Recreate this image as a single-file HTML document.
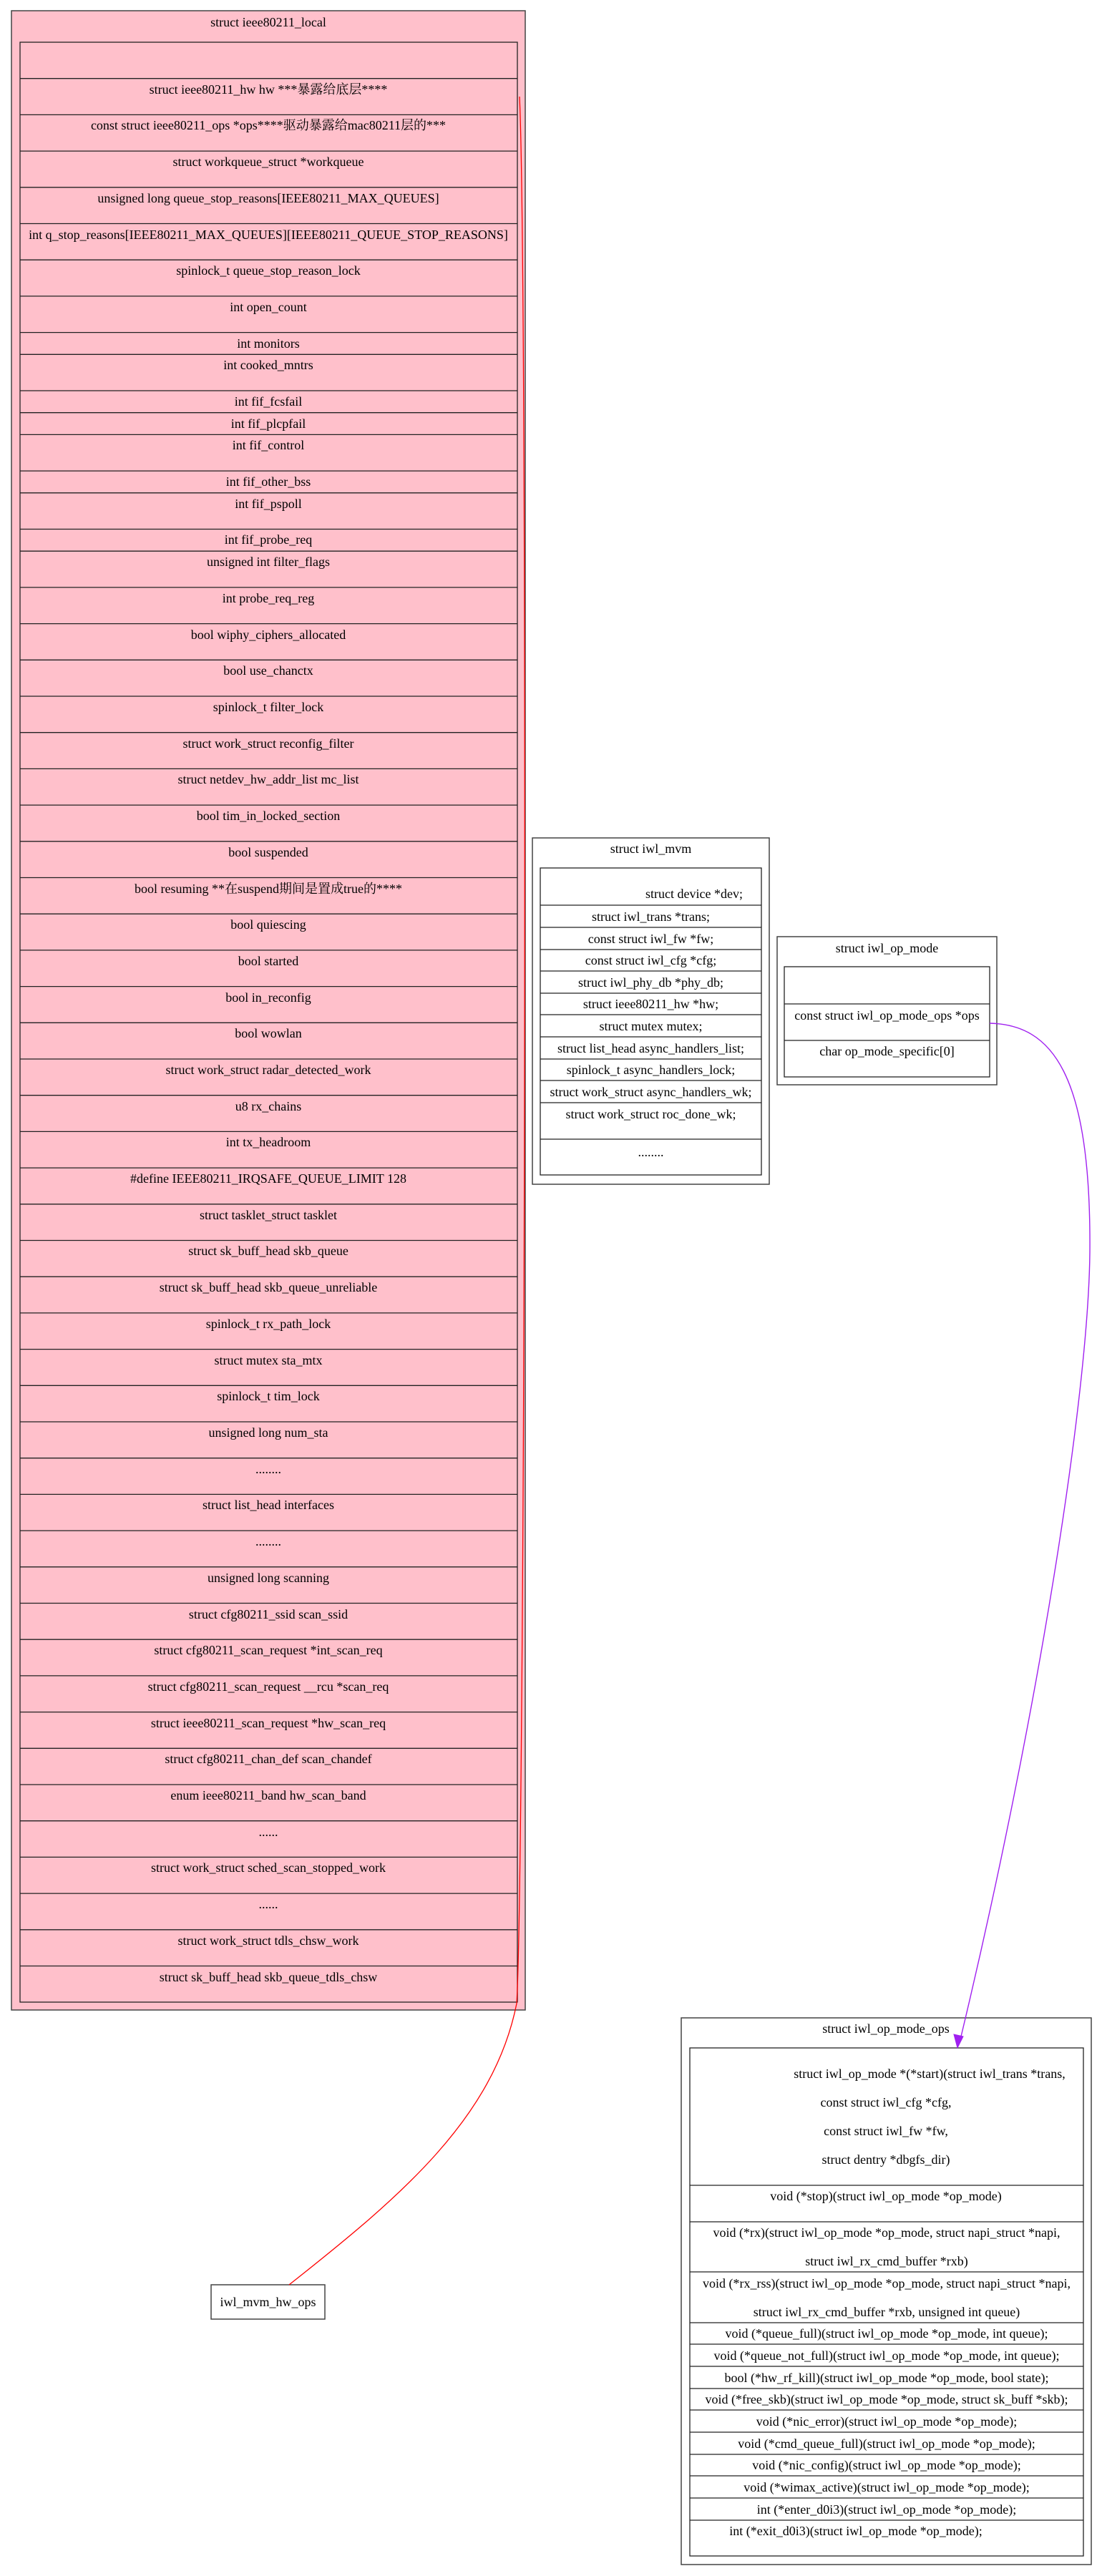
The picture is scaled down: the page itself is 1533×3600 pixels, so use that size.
<!DOCTYPE html>
<html><head><meta charset="utf-8"><style>
html,body{margin:0;padding:0;background:#fff}
svg{display:block}
text{font-family:"Liberation Serif","Noto Serif CJK SC","Noto Sans CJK SC",serif;font-size:18px;fill:#000;text-anchor:middle}
</style></head><body>
<svg width="1533" height="3600" viewBox="0 0 1533 3600" xmlns="http://www.w3.org/2000/svg">
<!-- ieee80211_local -->
<rect x="16" y="15" width="718" height="2794" fill="#ffc0cb" stroke="#444" stroke-width="1.5"/>
<text x="375" y="37">struct ieee80211_local</text>
<rect x="28" y="59" width="695" height="2739" fill="#ffc0cb" stroke="#222" stroke-width="1.3"/>
<g stroke="#222" stroke-width="1.3">
<line x1="28" x2="723" y1="109.7" y2="109.7"/><line x1="28" x2="723" y1="160.4" y2="160.4"/><line x1="28" x2="723" y1="211.1" y2="211.1"/><line x1="28" x2="723" y1="261.8" y2="261.8"/><line x1="28" x2="723" y1="312.5" y2="312.5"/><line x1="28" x2="723" y1="363.2" y2="363.2"/><line x1="28" x2="723" y1="413.9" y2="413.9"/><line x1="28" x2="723" y1="464.6" y2="464.6"/><line x1="28" x2="723" y1="495.3" y2="495.3"/><line x1="28" x2="723" y1="546" y2="546"/><line x1="28" x2="723" y1="576.7" y2="576.7"/><line x1="28" x2="723" y1="607.4" y2="607.4"/><line x1="28" x2="723" y1="658.1" y2="658.1"/><line x1="28" x2="723" y1="688.8" y2="688.8"/><line x1="28" x2="723" y1="739.5" y2="739.5"/><line x1="28" x2="723" y1="770.2" y2="770.2"/>
<line x1="28" x2="723" y1="820.9" y2="820.9"/><line x1="28" x2="723" y1="871.6" y2="871.6"/><line x1="28" x2="723" y1="922.3" y2="922.3"/><line x1="28" x2="723" y1="973" y2="973"/><line x1="28" x2="723" y1="1023.7" y2="1023.7"/><line x1="28" x2="723" y1="1074.4" y2="1074.4"/><line x1="28" x2="723" y1="1125.1" y2="1125.1"/><line x1="28" x2="723" y1="1175.8" y2="1175.8"/><line x1="28" x2="723" y1="1226.5" y2="1226.5"/><line x1="28" x2="723" y1="1277.2" y2="1277.2"/><line x1="28" x2="723" y1="1327.9" y2="1327.9"/><line x1="28" x2="723" y1="1378.6" y2="1378.6"/><line x1="28" x2="723" y1="1429.3" y2="1429.3"/><line x1="28" x2="723" y1="1480" y2="1480"/><line x1="28" x2="723" y1="1530.7" y2="1530.7"/><line x1="28" x2="723" y1="1581.4" y2="1581.4"/><line x1="28" x2="723" y1="1632.1" y2="1632.1"/><line x1="28" x2="723" y1="1682.8" y2="1682.8"/><line x1="28" x2="723" y1="1733.5" y2="1733.5"/><line x1="28" x2="723" y1="1784.2" y2="1784.2"/><line x1="28" x2="723" y1="1834.9" y2="1834.9"/><line x1="28" x2="723" y1="1885.6" y2="1885.6"/><line x1="28" x2="723" y1="1936.3" y2="1936.3"/><line x1="28" x2="723" y1="1987" y2="1987"/><line x1="28" x2="723" y1="2037.7" y2="2037.7"/><line x1="28" x2="723" y1="2088.4" y2="2088.4"/><line x1="28" x2="723" y1="2139.1" y2="2139.1"/><line x1="28" x2="723" y1="2189.8" y2="2189.8"/><line x1="28" x2="723" y1="2240.5" y2="2240.5"/><line x1="28" x2="723" y1="2291.2" y2="2291.2"/><line x1="28" x2="723" y1="2341.9" y2="2341.9"/><line x1="28" x2="723" y1="2392.6" y2="2392.6"/><line x1="28" x2="723" y1="2443.3" y2="2443.3"/><line x1="28" x2="723" y1="2494" y2="2494"/><line x1="28" x2="723" y1="2544.7" y2="2544.7"/><line x1="28" x2="723" y1="2595.4" y2="2595.4"/><line x1="28" x2="723" y1="2646.1" y2="2646.1"/><line x1="28" x2="723" y1="2696.8" y2="2696.8"/><line x1="28" x2="723" y1="2747.5" y2="2747.5"/>
</g>
<g>
<text x="375" y="131">struct ieee80211_hw hw ***暴露给底层****</text>
<text x="375" y="181">const struct ieee80211_ops *ops****驱动暴露给mac80211层的***</text>
<text x="375" y="232">struct workqueue_struct *workqueue</text>
<text x="375" y="283">unsigned long queue_stop_reasons[IEEE80211_MAX_QUEUES]</text>
<text x="375" y="334">int q_stop_reasons[IEEE80211_MAX_QUEUES][IEEE80211_QUEUE_STOP_REASONS]</text>
<text x="375" y="384">spinlock_t queue_stop_reason_lock</text>
<text x="375" y="435">int open_count</text>
<text x="375" y="486">int monitors</text>
<text x="375" y="516">int cooked_mntrs</text>
<text x="375" y="567">int fif_fcsfail</text>
<text x="375" y="598">int fif_plcpfail</text>
<text x="375" y="628">int fif_control</text>
<text x="375" y="679">int fif_other_bss</text>
<text x="375" y="710">int fif_pspoll</text>
<text x="375" y="760">int fif_probe_req</text>
<text x="375" y="791">unsigned int filter_flags</text>
<text x="375" y="842">int probe_req_reg</text>
<text x="375" y="893">bool wiphy_ciphers_allocated</text>
<text x="375" y="943">bool use_chanctx</text>
<text x="375" y="994">spinlock_t filter_lock</text>
<text x="375" y="1045">struct work_struct reconfig_filter</text>
<text x="375" y="1095">struct netdev_hw_addr_list mc_list</text>
<text x="375" y="1146">bool tim_in_locked_section</text>
<text x="375" y="1197">bool suspended</text>
<text x="375" y="1248">bool resuming **在suspend期间是置成true的****</text>
<text x="375" y="1298">bool quiescing</text>
<text x="375" y="1349">bool started</text>
<text x="375" y="1400">bool in_reconfig</text>
<text x="375" y="1450">bool wowlan</text>
<text x="375" y="1501">struct work_struct radar_detected_work</text>
<text x="375" y="1552">u8 rx_chains</text>
<text x="375" y="1602">int tx_headroom</text>
<text x="375" y="1653">#define IEEE80211_IRQSAFE_QUEUE_LIMIT 128</text>
<text x="375" y="1704">struct tasklet_struct tasklet</text>
<text x="375" y="1754">struct sk_buff_head skb_queue</text>
<text x="375" y="1805">struct sk_buff_head skb_queue_unreliable</text>
<text x="375" y="1856">spinlock_t rx_path_lock</text>
<text x="375" y="1907">struct mutex sta_mtx</text>
<text x="375" y="1957">spinlock_t tim_lock</text>
<text x="375" y="2008">unsigned long num_sta</text>
<text x="375" y="2059">........</text>
<text x="375" y="2109">struct list_head interfaces</text>
<text x="375" y="2160">........</text>
<text x="375" y="2211">unsigned long scanning</text>
<text x="375" y="2262">struct cfg80211_ssid scan_ssid</text>
<text x="375" y="2312">struct cfg80211_scan_request *int_scan_req</text>
<text x="375" y="2363">struct cfg80211_scan_request __rcu *scan_req</text>
<text x="375" y="2414">struct ieee80211_scan_request *hw_scan_req</text>
<text x="375" y="2464">struct cfg80211_chan_def scan_chandef</text>
<text x="375" y="2515">enum ieee80211_band hw_scan_band</text>
<text x="375" y="2566">......</text>
<text x="375" y="2616">struct work_struct sched_scan_stopped_work</text>
<text x="375" y="2667">......</text>
<text x="375" y="2718">struct work_struct tdls_chsw_work</text>
<text x="375" y="2769">struct sk_buff_head skb_queue_tdls_chsw</text>
</g>

<rect x="295" y="3193" width="159" height="48" fill="#fff" stroke="#444" stroke-width="1.5"/>
<text x="374.5" y="3223">iwl_mvm_hw_ops</text>

<!-- iwl_mvm -->
<rect x="744" y="1171" width="331" height="484" fill="#fff" stroke="#444" stroke-width="1.5"/>
<text x="909.5" y="1192">struct iwl_mvm</text>
<rect x="755" y="1213" width="309" height="429" fill="#fff" stroke="#222" stroke-width="1.3"/>
<g stroke="#222" stroke-width="1.3">
<line x1="755" x2="1064" y1="1265" y2="1265"/><line x1="755" x2="1064" y1="1296" y2="1296"/><line x1="755" x2="1064" y1="1327" y2="1327"/><line x1="755" x2="1064" y1="1357" y2="1357"/><line x1="755" x2="1064" y1="1388" y2="1388"/><line x1="755" x2="1064" y1="1418" y2="1418"/><line x1="755" x2="1064" y1="1449" y2="1449"/><line x1="755" x2="1064" y1="1480" y2="1480"/><line x1="755" x2="1064" y1="1510" y2="1510"/><line x1="755" x2="1064" y1="1541" y2="1541"/><line x1="755" x2="1064" y1="1592" y2="1592"/>
</g>
<text x="970" y="1255">struct device *dev;</text>
<text x="909.5" y="1287">struct iwl_trans *trans;</text>
<text x="909.5" y="1318">const struct iwl_fw *fw;</text>
<text x="909.5" y="1348">const struct iwl_cfg *cfg;</text>
<text x="909.5" y="1379">struct iwl_phy_db *phy_db;</text>
<text x="909.5" y="1409">struct ieee80211_hw *hw;</text>
<text x="909.5" y="1440">struct mutex mutex;</text>
<text x="909.5" y="1471">struct list_head async_handlers_list;</text>
<text x="909.5" y="1501">spinlock_t async_handlers_lock;</text>
<text x="909.5" y="1532">struct work_struct async_handlers_wk;</text>
<text x="909.5" y="1563">struct work_struct roc_done_wk;</text>
<text x="909.5" y="1616">........</text>

<!-- iwl_op_mode -->
<rect x="1086" y="1309" width="307" height="207" fill="#fff" stroke="#444" stroke-width="1.5"/>
<text x="1239.5" y="1331">struct iwl_op_mode</text>
<rect x="1096" y="1351" width="287" height="154" fill="#fff" stroke="#222" stroke-width="1.3"/>
<line x1="1096" x2="1383" y1="1403" y2="1403" stroke="#222" stroke-width="1.3"/>
<line x1="1096" x2="1383" y1="1454" y2="1454" stroke="#222" stroke-width="1.3"/>
<text x="1239.5" y="1425">const struct iwl_op_mode_ops *ops</text>
<text x="1239.5" y="1475">char op_mode_specific[0]</text>

<!-- iwl_op_mode_ops -->
<rect x="952" y="2820" width="573" height="764" fill="#fff" stroke="#444" stroke-width="1.5"/>
<text x="1238" y="2841">struct iwl_op_mode_ops</text>
<rect x="964" y="2862" width="550" height="710" fill="#fff" stroke="#222" stroke-width="1.3"/>
<g stroke="#222" stroke-width="1.3">
<line x1="964" x2="1514" y1="3054" y2="3054"/><line x1="964" x2="1514" y1="3105" y2="3105"/><line x1="964" x2="1514" y1="3175" y2="3175"/><line x1="964" x2="1514" y1="3246" y2="3246"/><line x1="964" x2="1514" y1="3276" y2="3276"/><line x1="964" x2="1514" y1="3307" y2="3307"/><line x1="964" x2="1514" y1="3338" y2="3338"/><line x1="964" x2="1514" y1="3368" y2="3368"/><line x1="964" x2="1514" y1="3399" y2="3399"/><line x1="964" x2="1514" y1="3430" y2="3430"/><line x1="964" x2="1514" y1="3460" y2="3460"/><line x1="964" x2="1514" y1="3491" y2="3491"/><line x1="964" x2="1514" y1="3522" y2="3522"/>
</g>
<text x="1299" y="2904">struct iwl_op_mode *(*start)(struct iwl_trans *trans,</text>
<text x="1238" y="2944">const struct iwl_cfg *cfg,</text>
<text x="1238" y="2984">const struct iwl_fw *fw,</text>
<text x="1238" y="3024">struct dentry *dbgfs_dir)</text>
<text x="1238" y="3075">void (*stop)(struct iwl_op_mode *op_mode)</text>
<text x="1239" y="3126">void (*rx)(struct iwl_op_mode *op_mode, struct napi_struct *napi,</text>
<text x="1239" y="3166">struct iwl_rx_cmd_buffer *rxb)</text>
<text x="1239" y="3197">void (*rx_rss)(struct iwl_op_mode *op_mode, struct napi_struct *napi,</text>
<text x="1239" y="3237">struct iwl_rx_cmd_buffer *rxb, unsigned int queue)</text>
<text x="1239" y="3267">void (*queue_full)(struct iwl_op_mode *op_mode, int queue);</text>
<text x="1239" y="3298">void (*queue_not_full)(struct iwl_op_mode *op_mode, int queue);</text>
<text x="1239" y="3329">bool (*hw_rf_kill)(struct iwl_op_mode *op_mode, bool state);</text>
<text x="1239" y="3359">void (*free_skb)(struct iwl_op_mode *op_mode, struct sk_buff *skb);</text>
<text x="1239" y="3390">void (*nic_error)(struct iwl_op_mode *op_mode);</text>
<text x="1239" y="3421">void (*cmd_queue_full)(struct iwl_op_mode *op_mode);</text>
<text x="1239" y="3451">void (*nic_config)(struct iwl_op_mode *op_mode);</text>
<text x="1239" y="3482">void (*wimax_active)(struct iwl_op_mode *op_mode);</text>
<text x="1239" y="3513">int (*enter_d0i3)(struct iwl_op_mode *op_mode);</text>
<text x="1196" y="3543">int (*exit_d0i3)(struct iwl_op_mode *op_mode);</text>

<!-- edges on top -->
<path d="M726,135 C738,400 734,2600 722,2800 C690,2960 560,3070 404,3193" fill="none" stroke="#ff0000" stroke-width="1.3"/>
<path d="M1383,1430 C1470,1432 1525,1500 1523,1750 C1521,1950 1450,2400 1343,2846" fill="none" stroke="#a020f0" stroke-width="1.4"/>
<polygon points="1338,2862 1333,2843 1346,2846" fill="#a020f0" stroke="#a020f0" stroke-width="1"/>
</svg>
</body></html>
